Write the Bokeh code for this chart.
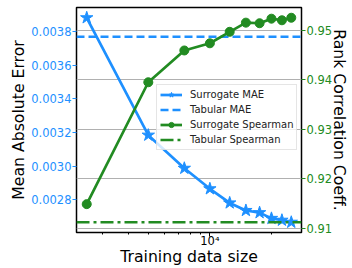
from bokeh.plotting import figure
from bokeh.models import (Range1d, LinearAxis, FixedTicker, PrintfTickFormatter,
                          Legend, LegendItem, Grid)
from bokeh.embed import file_html
from bokeh.resources import INLINE

# ---- data ----
train_sizes = [2500, 5000, 7500, 10000, 12500, 15000, 17500, 20000, 22500, 25000]
surrogate_mae = [0.003883, 0.003185, 0.002988, 0.002866, 0.002782, 0.002737,
                 0.002724, 0.002690, 0.002679, 0.002667]
tabular_mae = 0.00377
surrogate_spearman = [0.91485, 0.93947, 0.94589, 0.94734, 0.94966, 0.95151,
                      0.95139, 0.95231, 0.95199, 0.95250]
tabular_spearman = 0.91119

mae_ticks = [0.0028, 0.0030, 0.0032, 0.0034, 0.0036, 0.0038]
rank_ticks = [0.91, 0.92, 0.93, 0.94, 0.95]
x_major_ticks = [10000]
x_minor_ticks = [3000, 4000, 5000, 6000, 7000, 8000, 9000, 20000]
x_tick_labels = {10000: "10\u2074"}

x_title = "Training data size"
left_title = "Mean Absolute Error"
right_title = "Rank Correlation Coeff."

# ranges
X_LO, X_HI = 2228, 28050
MAE_LO, MAE_HI = 0.002606, 0.003944
RANK_LO, RANK_HI = 0.90912, 0.95457

BLUE = "#1e90ff"
GREEN = "#228b22"
FONT = "DejaVu Sans"

W, H = 352, 268
BL, BR, BT, BB = 76, 46, 7, 34

p = figure(width=W, height=H, x_axis_type="log",
           x_range=Range1d(X_LO, X_HI), y_range=Range1d(MAE_LO, MAE_HI),
           output_backend="svg", toolbar_location=None,
           min_border_left=BL, min_border_right=BR, min_border_top=BT,
           min_border_bottom=BB)
p.extra_y_ranges = {"right": Range1d(RANK_LO, RANK_HI)}

p.outline_line_color = "black"
p.outline_line_width = 1.5
p.background_fill_color = "white"
p.border_fill_color = "white"

# x axis
xa = p.xaxis[0]
xa.ticker = FixedTicker(ticks=x_major_ticks, minor_ticks=x_minor_ticks)
xa.major_label_overrides = x_tick_labels
xa.axis_label = x_title

# left axis
ya = p.yaxis[0]
ya.ticker = FixedTicker(ticks=mae_ticks)
ya.formatter = PrintfTickFormatter(format="%.4f")
ya.axis_label = left_title

# right axis
ra = LinearAxis(y_range_name="right", axis_label=right_title)
ra.ticker = FixedTicker(ticks=rank_ticks)
ra.formatter = PrintfTickFormatter(format="%.2f")
p.add_layout(ra, "right")

for ax, col in ((xa, "black"), (ya, BLUE), (ra, GREEN)):
    ax.axis_line_color = None
    ax.major_tick_in = 0
    ax.major_tick_out = 4
    ax.minor_tick_in = 0
    ax.minor_tick_out = 2
    ax.major_tick_line_color = col
    ax.minor_tick_line_color = col if ax is xa else None
    ax.major_label_text_color = col
    ax.major_label_text_font = FONT
    ax.major_label_text_font_size = "11.5px"
    ax.major_label_standoff = 1
    ax.axis_label_text_font = FONT
    ax.axis_label_text_font_size = "15.7px"
    ax.axis_label_text_font_style = "normal"
    ax.axis_label_text_color = "black"
    ax.axis_label_standoff = 0

xa.major_label_standoff = -3
xa.axis_label_standoff = -4
ra.axis_label_standoff = -5

# grid on the right axis ticks
p.xgrid.visible = False
p.ygrid.visible = False
g = Grid(dimension=1, ticker=ra.ticker, y_range_name="right",
         grid_line_color="#b0b0b0", grid_line_width=1)
p.add_layout(g)

# MAE series (left axis)
r_mae_line = p.line(train_sizes, surrogate_mae, line_color=BLUE, line_width=2.7)
r_mae_pts = p.scatter(train_sizes, surrogate_mae, marker="star", size=13,
                      fill_color=BLUE, line_color=BLUE)
r_tab_mae = p.line([X_LO, X_HI], [tabular_mae, tabular_mae], line_color=BLUE,
                   line_width=2.5, line_dash="8 4")

# Spearman series (right axis)
r_sp_line = p.line(train_sizes, surrogate_spearman, line_color=GREEN, line_width=2.7,
                   y_range_name="right")
r_sp_pts = p.scatter(train_sizes, surrogate_spearman, marker="circle", size=9,
                     fill_color=GREEN, line_color=GREEN, y_range_name="right")
r_tab_sp = p.line([X_LO, X_HI], [tabular_spearman, tabular_spearman], line_color=GREEN,
                  line_width=2.5, line_dash="13 4 3 4", y_range_name="right")

legend = Legend(items=[
    LegendItem(label="Surrogate MAE", renderers=[r_mae_line, r_mae_pts]),
    LegendItem(label="Tabular MAE", renderers=[r_tab_mae]),
    LegendItem(label="Surrogate Spearman", renderers=[r_sp_line, r_sp_pts]),
    LegendItem(label="Tabular Spearman", renderers=[r_tab_sp]),
], location=(80, 82))
legend.label_text_font = FONT
legend.label_text_font_size = "10px"
legend.label_text_color = "#222222"
legend.glyph_width = 22
legend.glyph_height = 13
legend.label_height = 13
legend.spacing = 2
legend.padding = 3
legend.margin = 0
legend.label_standoff = 8
legend.border_line_color = "#cccccc"
legend.border_line_width = 1
legend.background_fill_color = "white"
legend.background_fill_alpha = 0.8
p.add_layout(legend)

open("out.html", "w").write(file_html(p, INLINE))
